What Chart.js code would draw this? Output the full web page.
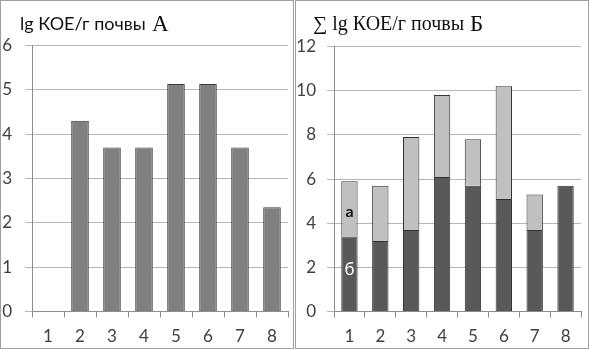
<!DOCTYPE html>
<html>
<head>
<meta charset="utf-8">
<script src="https://cdn.jsdelivr.net/npm/chart.js@4"></script>
<style>
    body { margin: 0; background: #fff; }
    .panel { position: absolute; top: 0; width: 294px; height: 349px; box-sizing: border-box; border: 1px solid #a0a0a0; }
    #panelA { left: 0; }
    #panelB { left: 295px; }
    canvas { display: block; }
</style>
</head>
<body>
<div class="panel" id="panelA"><canvas id="chartA" width="292" height="347"></canvas></div>
<div class="panel" id="panelB"><canvas id="chartB" width="292" height="347"></canvas></div>
<script>
/* values */
const samples = ['1', '2', '3', '4', '5', '6', '7', '8'];
const valuesA = [0, 4.3, 3.7, 3.7, 5.13, 5.13, 3.7, 2.35];
const valuesB_lower = [3.4, 3.2, 3.7, 6.1, 5.7, 5.1, 3.7, 5.7];   // б
const valuesB_upper = [2.5, 2.5, 4.2, 3.7, 2.1, 5.1, 1.6, 0];     // а
const segmentNames = ['б', 'а'];
const ticksA = [0, 1, 2, 3, 4, 5, 6];
const ticksB = [0, 2, 4, 6, 8, 10, 12];

const SANS = 'Lato, "Liberation Sans", sans-serif';
const SERIF = '"Liberation Serif", "DejaVu Serif", serif';
const GRID = '#b5b5b5';
const AXIS = '#8c8c8c';
const TEXT = '#404040';

function yScale(ticks, width, padding) {
    return {
        min: ticks[0],
        max: ticks[ticks.length - 1],
        afterBuildTicks: s => { s.ticks = ticks.map(v => ({ value: v })); },
        afterFit: s => { s.width = width; },
        grid: { color: GRID, tickColor: GRID, tickLength: 7 },
        border: { color: AXIS },
        ticks: { font: { family: SANS, size: 17 }, color: TEXT, padding: padding }
    };
}

function xScale(height, stacked) {
    return {
        stacked: stacked,
        afterFit: s => { s.height = height; },
        grid: { offset: true, drawOnChartArea: false, color: AXIS, tickColor: AXIS, tickLength: 6 },
        border: { color: AXIS },
        ticks: { font: { family: SANS, size: 17 }, color: TEXT, padding: 9 }
    };
}

// draws the panel heading, pieces in different fonts
function headingPlugin(parts) {
    return {
        id: 'heading',
        afterDraw(chart) {
            const ctx = chart.ctx;
            ctx.save();
            ctx.fillStyle = '#111';
            ctx.textBaseline = 'alphabetic';
            parts.forEach(p => {
                ctx.font = p.font;
                ctx.fillText(p.text, p.x, p.y);
            });
            ctx.restore();
        }
    };
}

// labels а / б inside the first stacked bar
const segmentLabelPlugin = {
    id: 'segmentLabels',
    afterDatasetsDraw(chart) {
        const ctx = chart.ctx;
        ctx.save();
        ctx.textAlign = 'center';
        ctx.textBaseline = 'middle';
        chart.data.datasets.forEach((ds, i) => {
            const bar = chart.getDatasetMeta(i).data[0];
            const { x, y, base } = bar.getProps(['x', 'y', 'base'], true);
            ctx.font = (i === 0 ? '17px ' : 'bold 16px ') + SANS;
            ctx.fillStyle = i === 0 ? '#ffffff' : '#111111';
            ctx.fillText(segmentNames[i], x, (y + base) / 2 + (i === 0 ? -4 : 3));
        });
        ctx.restore();
    }
};

new Chart(document.getElementById('chartA'), {
    type: 'bar',
    data: {
        labels: samples,
        datasets: [{
            data: valuesA,
            backgroundColor: '#808080',
            borderColor: '#3c3c3c',
            borderWidth: 1,
            barPercentage: 0.55,
            categoryPercentage: 1
        }]
    },
    options: {
        responsive: false,
        animation: false,
        layout: { padding: { top: 44.5, right: 5, left: 0, bottom: 0 } },
        plugins: { legend: { display: false }, tooltip: { enabled: false } },
        scales: { x: xScale(36.5, false), y: yScale(ticksA, 31, 13) }
    },
    plugins: [headingPlugin([
        { text: 'lg КОЕ/г почвы', font: '18px ' + SANS, x: 19, y: 29 },
        { text: 'А', font: '23px ' + SERIF, x: 151, y: 30 }
    ])]
});

new Chart(document.getElementById('chartB'), {
    type: 'bar',
    data: {
        labels: samples,
        datasets: [{
            data: valuesB_lower,
            backgroundColor: '#595959',
            borderColor: '#333333',
            borderWidth: 1,
            barPercentage: 0.53,
            categoryPercentage: 1
        }, {
            data: valuesB_upper,
            backgroundColor: '#c0c0c0',
            borderColor: '#333333',
            borderWidth: 1,
            barPercentage: 0.53,
            categoryPercentage: 1
        }]
    },
    options: {
        responsive: false,
        animation: false,
        layout: { padding: { top: 45.5, right: 7, left: 0, bottom: 0 } },
        plugins: { legend: { display: false }, tooltip: { enabled: false } },
        scales: { x: xScale(36.3, true), y: Object.assign(yScale(ticksB, 38, 11), { stacked: true }) }
    },
    plugins: [segmentLabelPlugin, headingPlugin([
        { text: '∑ lg КОЕ/г почвы', font: '20px ' + SERIF, x: 17, y: 29 },
        { text: 'Б', font: '23px ' + SERIF, x: 174, y: 30 }
    ])]
});
</script>
</body>
</html>
